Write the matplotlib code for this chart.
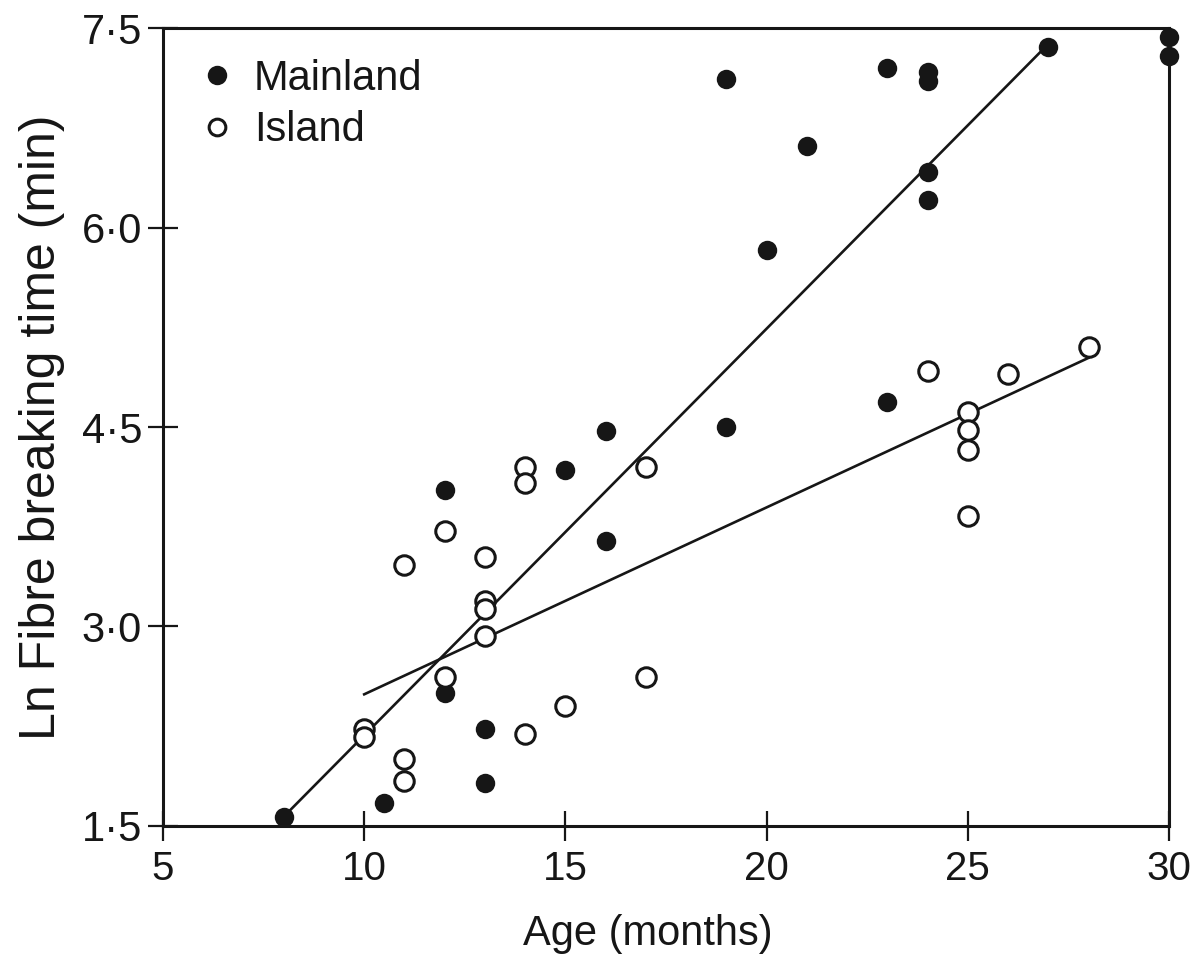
import matplotlib
matplotlib.use('Agg')
import matplotlib.pyplot as plt
from matplotlib.lines import Line2D
from matplotlib.ticker import FixedLocator, FuncFormatter

plt.rcParams['font.family'] = ['Liberation Sans', 'DejaVu Sans']

# Readings from the figure
mainland_age = [8, 10.5, 12, 12, 13, 13, 15, 16, 16, 19, 19, 20, 21,
                23, 23, 24, 24, 24, 24, 27, 30, 30]
mainland_ln = [1.57, 1.67, 4.03, 2.5, 2.23, 1.82, 4.18, 4.47, 3.64, 4.5, 7.12,
               5.83, 6.61, 7.2, 4.69, 7.17, 7.1, 6.42, 6.21, 7.36, 7.43, 7.29]

island_age = [10, 10, 11, 11, 11, 12, 12, 13, 13, 13, 13, 14, 14, 14, 15,
              17, 17, 24, 25, 25, 25, 25, 26, 28]
island_ln = [2.23, 2.17, 3.46, 2.0, 1.84, 3.72, 2.62, 3.52, 3.19, 3.13, 2.93,
             4.2, 4.08, 2.19, 2.4, 4.2, 2.62, 4.92, 4.61, 4.48, 4.33, 3.83,
             4.9, 5.1]

# fitted lines (end points)
mainland_fit_x = [8, 27]
mainland_fit_y = [1.57, 7.38]
island_fit_x = [10, 28]
island_fit_y = [2.49, 5.02]

x_ticks = [5, 10, 15, 20, 25, 30]
y_ticks = [1.5, 3.0, 4.5, 6.0, 7.5]

ink = '#161616'

fig = plt.figure(figsize=(12.01, 9.76), dpi=100)
ax = fig.add_axes([0.1357, 0.1537, 0.9734 - 0.1357, 0.9713 - 0.1537])

ax.plot(mainland_fit_x, mainland_fit_y, color=ink, lw=1.9, zorder=2)
ax.plot(island_fit_x, island_fit_y, color=ink, lw=1.9, zorder=2)

ax.plot(mainland_age, mainland_ln, 'o', color=ink, ms=14, mew=0,
        clip_on=False, zorder=3)
ax.plot(island_age, island_ln, 'o', mfc='white', mec=ink, ms=14, mew=2.2,
        clip_on=False, zorder=4)

ax.set_xlim(5, 30)
ax.set_ylim(1.5, 7.5)

for s in ax.spines.values():
    s.set_linewidth(2.2)
    s.set_color(ink)

ax.xaxis.set_major_locator(FixedLocator(x_ticks))
ax.yaxis.set_major_locator(FixedLocator(y_ticks))
ax.yaxis.set_major_formatter(FuncFormatter(lambda v, p: ('%.1f' % v).replace('.', '\u00b7')))
ax.tick_params(axis='both', direction='inout', length=22, width=1.6,
               color=ink, labelcolor=ink)
ax.tick_params(axis='x', pad=6, labelsize=29)
ax.tick_params(axis='y', pad=4, labelsize=30)

ax.set_xlabel('Age (months)', fontsize=30, color=ink)
ax.xaxis.set_label_coords(0.482, -0.11)
ax.set_ylabel('Ln Fibre breaking time (min)', fontsize=36, color=ink)
ax.yaxis.set_label_coords(-0.097, 0.5)

handles = [Line2D([], [], marker='o', ls='', color=ink, ms=14, mew=0),
           Line2D([], [], marker='o', ls='', mfc='white', mec=ink, ms=12, mew=2.2)]
leg = ax.legend(handles, ['Mainland', 'Island'], loc='upper left', frameon=False,
                fontsize=30, handletextpad=0.4, handlelength=1.0,
                labelspacing=0.27, borderaxespad=0.0,
                bbox_to_anchor=(0.016, 0.982))
for t in leg.get_texts():
    t.set_color(ink)

fig.savefig('out.png', dpi=100)
